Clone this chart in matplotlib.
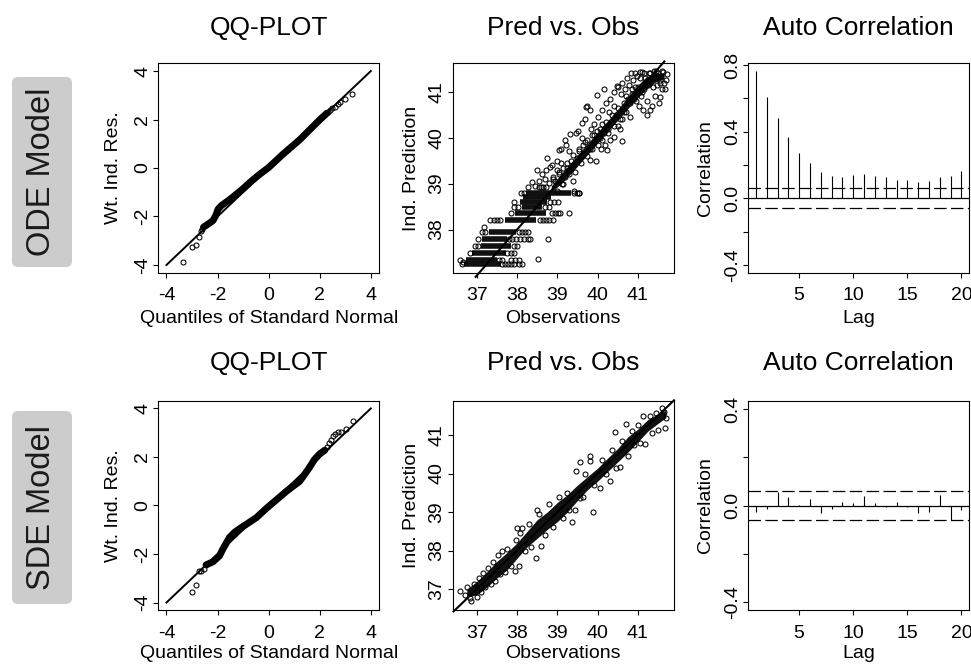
import matplotlib.pyplot as plt
from matplotlib.patches import FancyBboxPatch

plt.rcParams['font.family'] = ['Liberation Sans', 'DejaVu Sans']
plt.rcParams['axes.unicode_minus'] = False

# ---------------- data ----------------
# QQ plot, ODE model: dense band (drawn as thick path) + single points in the tails
qq_ode_band_theo = [-2.55, -2.35, -2.18, -2.07, -1.98, -1.85, -1.60, -1.40, -1.00, -0.74, -0.40, 0.00, 0.56, 1.21, 1.60, 2.02, 2.28]
qq_ode_band_res = [-2.44, -2.30, -2.17, -1.96, -1.70, -1.55, -1.36, -1.20, -0.85, -0.60, -0.30, 0.02, 0.57, 1.16, 1.57, 2.01, 2.26]
qq_ode_tail_theo = [-3.35, -3.02, -2.85, -2.72, -2.66, -2.60, 2.32, 2.40, 2.48, 2.58, 2.71, 2.80, 2.97, 3.27]
qq_ode_tail_res = [-3.89, -3.27, -3.17, -2.83, -2.62, -2.52, 2.30, 2.38, 2.46, 2.52, 2.63, 2.73, 2.84, 3.05]

# QQ plot, SDE model
qq_sde_band_theo = [-2.45, -2.18, -1.92, -1.81, -1.66, -1.53, -1.33, -1.07, -0.81, -0.48, -0.09, 0.30, 0.69, 0.95, 1.21, 1.40, 1.60, 1.79, 1.99, 2.20]
qq_sde_band_res = [-2.45, -2.32, -2.07, -1.83, -1.55, -1.31, -1.10, -0.91, -0.73, -0.50, -0.12, 0.23, 0.58, 0.79, 0.99, 1.27, 1.57, 1.89, 2.12, 2.28]
qq_sde_tail_theo = [-3.02, -2.83, -2.74, -2.65, -2.55, 2.30, 2.38, 2.45, 2.52, 2.60, 2.71, 2.85, 3.03, 3.29]
qq_sde_tail_res = [-3.56, -3.26, -2.70, -2.68, -2.60, 2.40, 2.58, 2.72, 2.86, 2.95, 3.03, 3.05, 3.14, 3.50]

# Pred vs Obs, ODE model: horizontal rows of predictions (dense parts)
ode_row_pred = [37.25, 37.33, 37.48, 37.64, 37.80, 37.94, 38.20, 38.35, 38.48, 38.60, 38.71, 38.79]
ode_row_lo = [36.68, 36.72, 36.88, 37.10, 37.12, 37.30, 37.70, 37.95, 38.12, 38.08, 38.15, 38.22]
ode_row_hi = [37.60, 37.50, 37.72, 37.85, 37.75, 37.98, 38.48, 38.72, 38.62, 38.75, 38.85, 39.35]

# single points of the rows
ode_row_obs = [36.62, 36.66, 37.62, 37.70, 37.78, 37.86, 37.93, 38.04, 38.12,
               36.58, 37.55, 37.62, 37.84, 37.94, 38.05, 38.52,
               36.84, 37.76, 37.85, 37.92,
               36.96, 37.04, 37.92, 38.00,
               37.02, 37.80, 37.88, 37.98, 38.08, 38.16, 38.26, 38.32, 38.78,
               37.12, 37.20, 38.04, 38.12, 38.20, 38.28,
               37.19,
               37.33, 37.42, 37.50, 37.58, 38.56, 38.64, 38.72, 38.80, 38.90,
               37.86, 38.86, 38.94, 39.02, 39.07, 39.29,
               37.92, 38.02, 38.70, 38.80,
               37.92, 38.82, 38.92, 39.02,
               38.10, 38.16, 39.42, 39.53,
               38.28, 38.37, 38.55, 38.65, 38.72]
ode_row_pts = [37.25, 37.30, 37.25, 37.25, 37.25, 37.25, 37.25, 37.25, 37.25,
               37.33, 37.33, 37.33, 37.33, 37.33, 37.33, 37.35,
               37.48, 37.48, 37.48, 37.48,
               37.64, 37.64, 37.64, 37.64,
               37.80, 37.80, 37.80, 37.80, 37.80, 37.80, 37.80, 37.80, 37.80,
               37.94, 37.94, 37.94, 37.94, 37.94, 37.94,
               38.06,
               38.20, 38.20, 38.20, 38.20, 38.20, 38.20, 38.20, 38.20, 38.20,
               38.35, 38.35, 38.35, 38.35, 38.35, 38.35,
               38.48, 38.48, 38.48, 38.48,
               38.60, 38.60, 38.60, 38.60,
               38.79, 38.79, 38.79, 38.79,
               38.93, 39.04, 38.93, 38.93, 38.93]

# upper part: narrow dense core near the identity line + scattered points
ode_core_obs = [38.85, 39.10, 39.40, 39.70, 40.00, 40.30, 40.60, 40.90, 41.20, 41.45, 41.65]
ode_core_lo = [38.82, 39.00, 39.28, 39.58, 39.88, 40.18, 40.48, 40.78, 41.05, 41.22, 41.28]
ode_core_hi = [38.95, 39.22, 39.52, 39.82, 40.12, 40.42, 40.72, 41.05, 41.32, 41.40, 41.40]

ode_cloud_obs = [38.45, 38.55, 38.60, 38.62, 38.70, 38.72, 38.49, 38.80, 38.82, 38.74,
                 38.88, 38.90, 38.95, 38.98, 39.00, 39.03, 39.05, 39.08, 39.10, 39.12,
                 39.15, 39.19, 39.20, 39.22, 39.25, 39.28, 39.30, 39.32, 39.35, 39.38,
                 39.40, 39.42, 39.47, 39.48, 39.50, 39.52, 39.55, 39.55, 39.61, 39.60,
                 39.62, 39.65, 39.68, 39.71, 39.73, 39.75, 39.82, 39.80, 39.83, 39.85,
                 39.82, 39.90, 39.92, 39.95, 39.98, 39.98, 40.02, 40.05, 40.08, 40.10,
                 40.12, 40.15, 40.16, 40.18, 40.23, 40.22, 40.25, 40.28, 40.30, 40.32,
                 40.35, 40.40, 40.40, 40.42, 40.45, 40.48, 40.50, 40.52, 40.56, 40.58,
                 40.60, 40.60, 40.62, 40.65, 40.68, 40.70, 40.72, 40.75, 40.78, 40.81,
                 40.82, 40.85, 40.88, 40.93, 40.92, 40.95, 40.98, 41.00, 41.02, 41.06,
                 41.08, 41.10, 41.12, 41.15, 41.18, 41.22, 41.22, 41.25, 41.28, 41.31,
                 41.31, 41.35, 41.38, 41.40, 41.42, 41.45, 41.48, 41.50, 41.52, 41.55,
                 41.55, 41.58, 41.60, 41.62, 41.65, 41.68, 41.70, 41.72]
ode_cloud_pred = [38.95, 39.05, 38.92, 39.20, 39.10, 39.30, 39.29, 39.02, 39.37, 39.55,
                  39.40, 39.15, 39.05, 39.50, 39.30, 39.73, 39.20, 39.45, 39.75, 39.00,
                  39.35, 39.95, 39.15, 39.85, 39.45, 39.30, 39.70, 40.09, 39.50, 39.05,
                  39.62, 38.85, 40.10, 38.80, 39.55, 40.15, 38.80, 39.70, 40.31, 39.60,
                  40.00, 39.85, 40.40, 40.67, 40.69, 39.95, 40.61, 39.75, 40.20, 40.05,
                  39.51, 40.30, 39.90, 39.50, 40.15, 40.93, 40.45, 40.00, 39.75, 40.30,
                  40.60, 40.10, 41.06, 39.85, 39.73, 40.75, 40.20, 40.55, 39.95, 40.85,
                  40.35, 40.02, 40.70, 41.00, 40.50, 41.12, 40.25, 41.10, 40.20, 40.95,
                  39.93, 40.40, 41.20, 40.75, 41.05, 40.55, 41.30, 40.85, 41.15, 40.46,
                  41.40, 40.95, 41.25, 41.41, 41.10, 40.80, 41.35, 41.00, 40.70, 41.44,
                  40.90, 41.42, 40.60, 41.05, 41.30, 40.49, 40.80, 41.15, 41.40, 40.60,
                  41.40, 40.70, 41.10, 41.45, 40.90, 41.30, 41.15, 41.40, 40.75, 40.89,
                  41.25, 41.35, 41.05, 41.42, 41.20, 41.07, 41.25, 41.38]
# points sitting right next to the core
ode_near_obs = [38.90, 39.00, 39.05, 39.15, 39.25, 39.30, 39.40, 39.45, 39.55, 39.60,
                39.70, 39.75, 39.85, 39.90, 40.00, 40.05, 40.10, 40.20, 40.25, 40.35,
                40.40, 40.50, 40.55, 40.65, 40.70, 40.80, 40.85, 40.90, 41.00, 41.05,
                41.10, 41.15, 41.25, 41.35, 41.40, 41.50, 41.55, 41.60, 41.45, 41.20]
ode_near_pred = [39.10, 38.85, 39.25, 39.00, 39.35, 39.20, 39.40, 39.25, 39.75, 39.45,
                 39.90, 39.60, 39.75, 40.05, 39.85, 40.20, 39.95, 40.35, 40.10, 40.50,
                 40.25, 40.65, 40.40, 40.55, 40.90, 40.75, 41.05, 40.85, 41.10, 41.30,
                 41.00, 41.40, 41.25, 41.30, 41.35, 41.35, 41.20, 41.45, 41.45, 41.20]

# Pred vs Obs, SDE model: dense core (lower / upper edge) + scattered points
sde_core_obs = [36.75, 37.00, 37.25, 37.50, 37.75, 38.00, 38.25, 38.50, 38.75, 39.00, 39.25,
                39.50, 39.75, 40.00, 40.25, 40.50, 40.75, 41.00, 41.25, 41.50, 41.70]
sde_core_lo = [36.80, 36.85, 37.05, 37.29, 37.50, 37.80, 38.10, 38.32, 38.55, 38.75, 39.00,
               39.30, 39.58, 39.80, 40.05, 40.30, 40.55, 40.82, 41.10, 41.30, 41.45]
sde_core_hi = [37.00, 37.20, 37.45, 37.72, 37.95, 38.20, 38.50, 38.80, 39.00, 39.25, 39.45,
               39.70, 39.92, 40.14, 40.40, 40.65, 40.95, 41.15, 41.40, 41.55, 41.65]
sde_obs = [36.59, 36.70, 36.75, 36.82, 36.86, 36.92, 37.00, 37.05, 37.10, 37.15,
           37.20, 37.28, 37.35, 37.40, 37.45, 37.52, 37.58, 37.62, 37.70, 37.75,
           37.85, 37.95, 38.06, 37.98, 38.08, 37.99, 38.12, 38.20, 38.30, 38.35,
           38.47, 38.59, 38.55, 38.49, 38.70, 38.80, 38.90, 39.05, 39.15, 39.24,
           39.30, 39.36, 39.44, 39.57, 39.88, 39.47, 39.57, 39.65, 39.69, 39.80,
           39.82, 39.90, 40.06, 40.10, 40.20, 40.31, 40.35, 40.44, 40.45, 40.56,
           40.60, 40.70, 40.75, 40.85, 40.91, 41.00, 41.05, 41.12, 41.18, 41.30,
           41.35, 41.45, 41.51, 41.60, 41.65, 41.68, 41.70]
sde_pred = [36.96, 36.85, 37.05, 36.78, 36.68, 37.12, 36.80, 37.30, 36.92, 37.42,
            37.05, 37.55, 37.12, 37.70, 37.20, 37.88, 37.38, 38.00, 37.45, 38.05,
            37.60, 37.46, 37.59, 38.28, 38.45, 38.58, 38.58, 37.98, 38.70, 38.10,
            37.82, 38.13, 38.95, 39.06, 38.40, 39.20, 38.60, 39.40, 38.85, 39.49,
            39.05, 38.75, 39.06, 39.36, 38.99, 40.07, 40.31, 39.40, 39.98, 40.46,
            40.33, 39.70, 39.63, 40.35, 40.00, 39.81, 40.62, 41.07, 40.15, 40.18,
            40.85, 41.28, 40.45, 41.10, 40.74, 41.25, 40.80, 41.48, 40.76, 41.50,
            41.05, 41.58, 41.13, 41.71, 41.59, 41.19, 41.45]

# autocorrelation of residuals, lags 1..20
lags = list(range(1, 21))
acf_ode = [0.764, 0.606, 0.480, 0.370, 0.272, 0.212, 0.160, 0.135, 0.130, 0.140,
           0.146, 0.135, 0.130, 0.110, 0.110, 0.100, 0.105, 0.130, 0.135, 0.167]
acf_sde = [-0.025, -0.014, 0.058, 0.037, 0.003, 0.028, -0.029, -0.015, 0.017, 0.012,
           0.041, 0.010, -0.004, 0.017, -0.004, -0.029, -0.025, 0.043, -0.061, -0.020]
acf_ci = 0.06

row_names = ['ODE Model', 'SDE Model']

# ---------------- layout ----------------
fig = plt.figure(figsize=(9.71, 6.70), dpi=100)
W, H = 971.0, 670.0

col_left = [158.3, 452.7, 748.3]
col_width = [220.7, 221.3, 220.7]
row_top = [63.3, 400.7]
row_height = [209.4, 209.6]


def make_axes(r, c):
    ax = fig.add_axes([col_left[c] / W, 1 - (row_top[r] + row_height[r]) / H,
                       col_width[c] / W, row_height[r] / H])
    for s in ax.spines.values():
        s.set_linewidth(0.8)
    ax.tick_params(direction='out', length=3.6, width=0.8, labelsize=14, color='black')
    ax.tick_params(axis='x', pad=7)
    ax.tick_params(axis='y', pad=1.5, labelrotation=90)
    return ax


def finish_axes(ax, r, title, xlabel, ylabel, ylab_x):
    for lbl in ax.get_yticklabels():
        lbl.set_va('center')
    ax.set_xlabel(xlabel, fontsize=14, va='center')
    ax.set_ylabel(ylabel, fontsize=14, va='center')
    ax.xaxis.set_label_coords(0.5, -0.218 if r == 0 else -0.205)
    ax.yaxis.set_label_coords(ylab_x, 0.5)
    ax.set_title(title, fontsize=19, pad=0, y=1.17 if r == 0 else 1.178, va='center')


circ = dict(marker='o', ms=3.6, mfc='none', mec='black', mew=0.75, ls='none')

for r in range(2):
    # ---- QQ plot
    ax = make_axes(r, 0)
    if r == 0:
        bt, br, tt, tr = qq_ode_band_theo, qq_ode_band_res, qq_ode_tail_theo, qq_ode_tail_res
    else:
        bt, br, tt, tr = qq_sde_band_theo, qq_sde_band_res, qq_sde_tail_theo, qq_sde_tail_res
    ax.plot(bt, br, color='black', lw=5.0, solid_capstyle='round', solid_joinstyle='round')
    ax.plot(tt, tr, **circ)
    ax.plot([-4, 4], [-4, 4], color='black', lw=1.4)
    ax.set_xlim(-4.32, 4.32)
    ax.set_ylim(-4.32, 4.32)
    ax.set_xticks([-4, -2, 0, 2, 4])
    ax.set_yticks([-4, -2, 0, 2, 4])
    finish_axes(ax, r, 'QQ-PLOT', 'Quantiles of Standard Normal', 'Wt. Ind. Res.', -0.204)

    # ---- Pred vs Obs
    ax = make_axes(r, 1)
    if r == 0:
        ax.hlines(ode_row_pred, ode_row_lo, ode_row_hi, color='#111111', lw=4.0)
        ax.fill_between(ode_core_obs, ode_core_lo, ode_core_hi, color='#111111', lw=0)
        ax.plot(ode_row_obs, ode_row_pts, **circ)
        ax.plot(ode_cloud_obs, ode_cloud_pred, **circ)
        ax.plot(ode_near_obs, ode_near_pred, **circ)
        ax.plot([36.97, 41.66], [36.97, 41.66], color='black', lw=1.5, clip_on=False)
        ax.set_ylim(37.06, 41.62)
        ax.set_yticks([38, 39, 40, 41])
    else:
        ax.fill_between(sde_core_obs, sde_core_lo, sde_core_hi, color='#111111', lw=0)
        ax.plot(sde_obs, sde_pred, **circ)
        ax.plot([36.42, 41.9], [36.42, 41.9], color='black', lw=1.5, clip_on=False)
        ax.set_ylim(36.45, 41.89)
        ax.set_yticks([37, 38, 39, 40, 41])
    ax.set_xlim(36.40, 41.90)
    ax.set_xticks([37, 38, 39, 40, 41])
    finish_axes(ax, r, 'Pred vs. Obs', 'Observations', 'Ind. Prediction', -0.185)

    # ---- Auto correlation
    ax = make_axes(r, 2)
    vals = acf_ode if r == 0 else acf_sde
    ax.vlines(lags, 0, vals, color='black', lw=0.8)
    ax.axhline(0, color='black', lw=0.9)
    for s in (1, -1):
        ax.axhline(s * acf_ci, color='black', lw=0.9, ls=(0, (10, 3.5)))
    ax.set_xlim(0.3, 20.7)
    ax.set_xticks([5, 10, 15, 20])
    if r == 0:
        ax.set_ylim(-0.446, 0.81)
        ax.set_yticks([-0.4, -0.2, 0.0, 0.2, 0.4, 0.6, 0.8])
        ax.set_yticklabels(['-0.4', '', '0.0', '', '0.4', '', '0.8'])
    else:
        ax.set_ylim(-0.433, 0.434)
        ax.set_yticks([-0.4, -0.2, 0.0, 0.2, 0.4])
        ax.set_yticklabels(['-0.4', '', '0.0', '', '0.4'])
    finish_axes(ax, r, 'Auto Correlation', 'Lag', 'Correlation', -0.196)

# ---- row labels in grey rounded boxes
box_top = [77, 411]
box_bottom = [267, 604]
for r in range(2):
    y0 = (H - box_bottom[r]) / 100.0
    h = (box_bottom[r] - box_top[r]) / 100.0
    patch = FancyBboxPatch((0.12, y0), 0.60, h, boxstyle='round,pad=0,rounding_size=0.06',
                           transform=fig.dpi_scale_trans, facecolor='#cccccc',
                           edgecolor='none')
    fig.patches.append(patch)
    fig.text(42 / W, 1 - (box_top[r] + box_bottom[r]) / 2 / H, row_names[r], rotation=90,
             fontsize=23.5, ha='center', va='center', color='#1a1a1a')

fig.savefig('out.png', dpi=100)
